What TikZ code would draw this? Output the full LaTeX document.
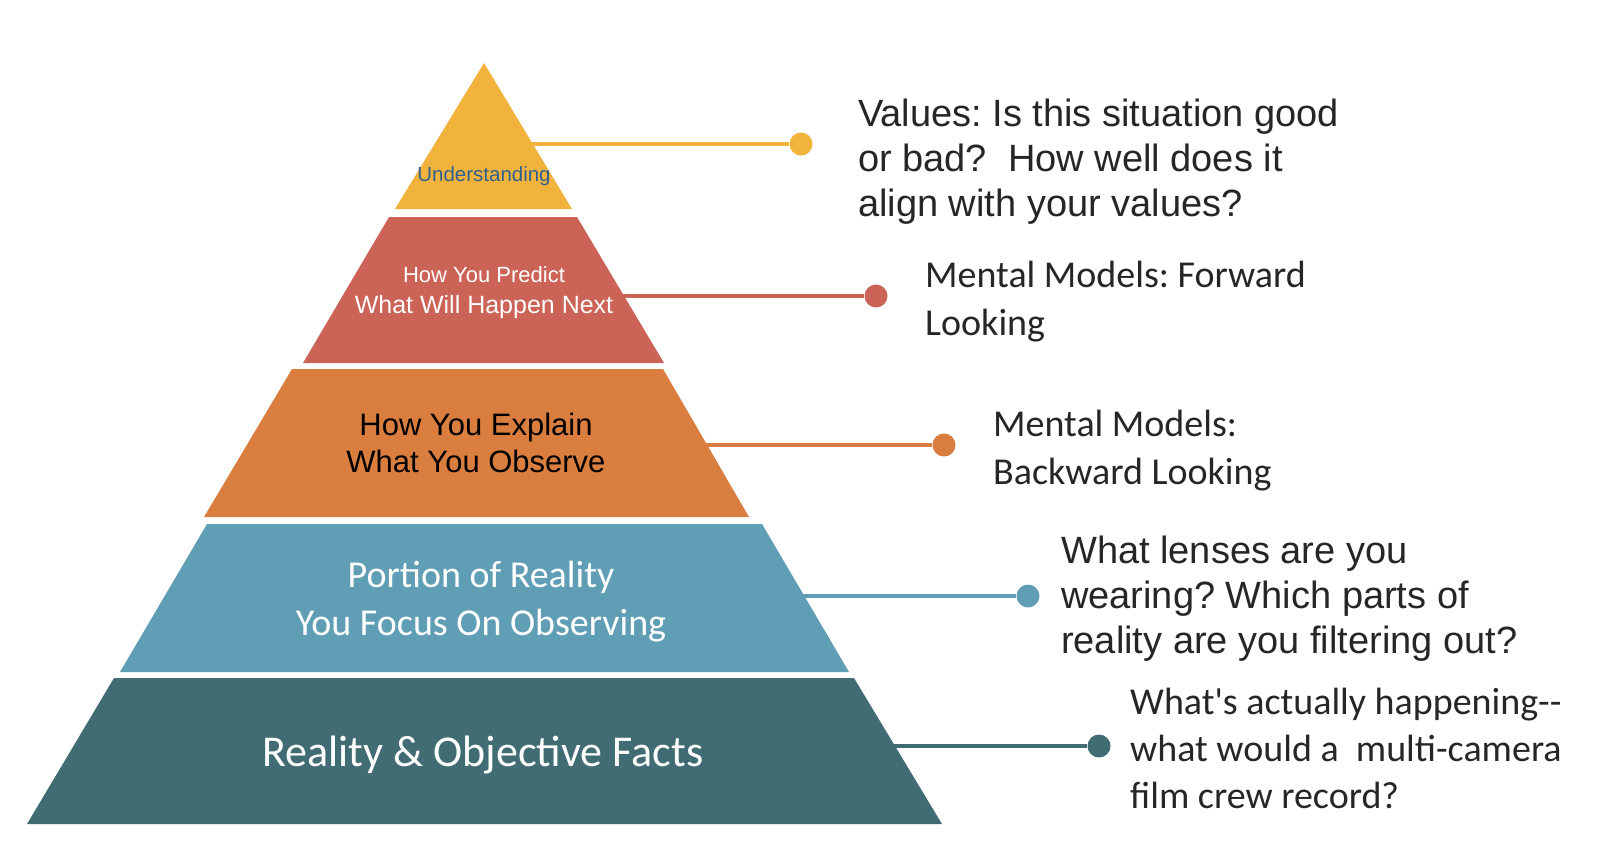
\documentclass[tikz,border=0pt]{standalone}
\usepackage{fontspec}
\setmainfont{Liberation Sans}
\newfontfamily\calibri{Carlito}
\usepackage{tikz}
\usetikzlibrary{calc,positioning}
\frenchspacing

\definecolor{pyrYellow}{HTML}{F2B33D}
\definecolor{pyrRed}{HTML}{CB6357}
\definecolor{pyrOrange}{HTML}{DA7E40}
\definecolor{pyrBlue}{HTML}{5F9EB5}
\definecolor{pyrTeal}{HTML}{416C73}
\definecolor{labelBlue}{HTML}{2E6190}
\definecolor{noteGray}{HTML}{262626}

\begin{document}
\begin{tikzpicture}[x=1pt, y=-1pt,
  link/.style={line width=4pt},
  dot/.style={circle, inner sep=0pt, minimum size=23pt},
  inside/.style={inner sep=0pt, align=center},
  note/.style={anchor=west, inner sep=0pt, align=left, text=noteGray}]

\useasboundingbox (0,0) rectangle (1600,852);

% ---- Pyramid bands (top to bottom) ----
\fill[pyrYellow] (484,63) -- (572,209) -- (395,209) -- cycle;
\fill[pyrRed]    (389,217) -- (577,217) -- (664,363) -- (303,363) -- cycle;
\fill[pyrOrange] (292,369) -- (663,369) -- (749,517) -- (204,517) -- cycle;
\fill[pyrBlue]   (207,524) -- (762,524) -- (849,672) -- (120,672) -- cycle;
\fill[pyrTeal]   (114,678) -- (854,678) -- (942,824) -- (27,824) -- cycle;

% ---- Labels inside the bands ----
\node[inside, text=labelBlue, font=\fontsize{20.5}{24}\selectfont]
  (understanding) at (484,176) {Understanding};
\node[inside, text=white, font=\fontsize{25}{31}\selectfont]
  (predict) at (484,293) {{\fontsize{22}{31}\selectfont How You Predict}\\What Will Happen Next};
\node[inside, text=black, font=\fontsize{31}{37}\selectfont]
  (explain) at (476,443) {How You Explain\\What You Observe};
\node[inside, text=white, font=\calibri\fontsize{38}{48}\selectfont]
  (portion) at (481,602) {Portion of Reality\\You Focus On Observing};
\node[inside, text=white, font=\calibri\fontsize{44}{52}\selectfont]
  (reality) at (483,755) {Reality \& Objective Facts};

% ---- Connectors out to the right ----
\coordinate (valuesEdge)   at (530,144);
\coordinate (forwardEdge)  at (621,296);
\coordinate (backwardEdge) at (704,445);
\coordinate (lensEdge)     at (801,596);
\coordinate (factsEdge)    at (892,746);

\node[dot, fill=pyrYellow] (valuesDot)   at (801,144)  {};
\node[dot, fill=pyrRed]    (forwardDot)  at (876,296)  {};
\node[dot, fill=pyrOrange] (backwardDot) at (944,445)  {};
\node[dot, fill=pyrBlue]   (lensDot)     at (1028,596) {};
\node[dot, fill=pyrTeal]   (factsDot)    at (1099,746) {};

\draw[link, pyrYellow] (valuesEdge)   -- (valuesDot);
\draw[link, pyrRed]    (forwardEdge)  -- (forwardDot);
\draw[link, pyrOrange] (backwardEdge) -- (backwardDot);
\draw[link, pyrBlue]   (lensEdge)     -- (lensDot);
\draw[link, pyrTeal]   (factsEdge)    -- (factsDot);

% ---- Notes ----
\node[note, font=\fontsize{38}{45}\selectfont] (valuesNote) at (858,162)
  {Values: Is this situation good\\or bad?\ \ How well does it\\align with your values?};
\node[note, font=\calibri\fontsize{38}{48}\selectfont] (forwardNote) at (925,302)
  {Mental Models: Forward\\Looking};
\node[note, font=\calibri\fontsize{38}{48}\selectfont] (backwardNote) at (993,451)
  {Mental Models:\\Backward Looking};
\node[note, font=\fontsize{38}{45}\selectfont] (lensNote) at (1061,599)
  {What lenses are you\\wearing? Which parts of\\reality are you filtering out?};
\node[note, font=\calibri\fontsize{38}{47}\selectfont] (factsNote) at (1130,748)
  {What\textquotesingle s actually happening-{}-\\what would a\ \ multi-camera\\film crew record?};

\end{tikzpicture}
\end{document}
